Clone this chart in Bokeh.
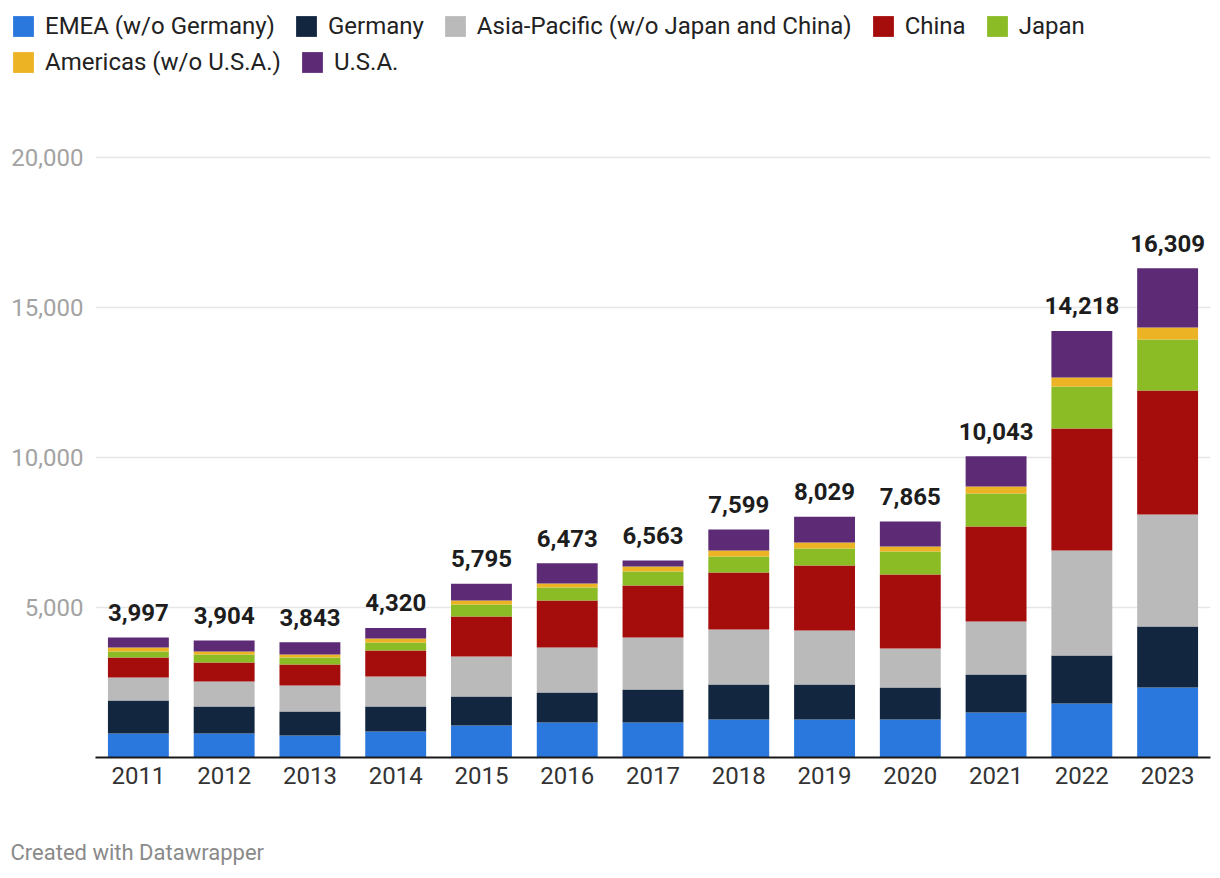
from bokeh.plotting import figure
from bokeh.layouts import column
from bokeh.models import (ColumnDataSource, Legend, LegendItem, Label, FixedTicker,
                          NumeralTickFormatter, Range1d, FactorRange)
from bokeh.embed import file_html
from bokeh.resources import INLINE
from bokeh.core.properties import value

years = ["2011", "2012", "2013", "2014", "2015", "2016", "2017",
         "2018", "2019", "2020", "2021", "2022", "2023"]
emea = [800, 800, 733, 867, 1067, 1167, 1167, 1267, 1267, 1267, 1500, 1800, 2333]
germany = [1100, 900, 800, 833, 967, 1000, 1100, 1167, 1167, 1067, 1267, 1600, 2033]
apac = [767, 833, 867, 1000, 1333, 1500, 1733, 1833, 1800, 1300, 1767, 3500, 3733]
china = [667, 633, 700, 867, 1333, 1567, 1733, 1900, 2167, 2467, 3167, 4067, 4133]
japan = [200, 267, 233, 267, 400, 433, 467, 533, 567, 767, 1100, 1400, 1700]
americas = [133, 100, 100, 133, 133, 133, 167, 200, 200, 167, 233, 300, 400]
usa = [330, 371, 410, 353, 562, 673, 196, 699, 861, 830, 1009, 1551, 1977]
totals = [3997, 3904, 3843, 4320, 5795, 6473, 6563, 7599, 8029, 7865, 10043, 14218, 16309]

series_keys = ["emea", "germany", "apac", "china", "japan", "americas", "usa"]
series_labels = ["EMEA (w/o Germany)", "Germany", "Asia-Pacific (w/o Japan and China)",
                 "China", "Japan", "Americas (w/o U.S.A.)", "U.S.A."]
colors = ["#2a77dd", "#12273f", "#bababa", "#a50c0c", "#8bbb25", "#ecb324", "#5d2b76"]
y_ticks = [5000, 10000, 15000, 20000]

FONT = "Roboto"
W = 1218

# ---------------- legend strip ----------------
LH = 100
lf = figure(width=W, height=LH, output_backend="svg", toolbar_location=None,
            x_range=Range1d(0, W), y_range=Range1d(0, LH),
            x_axis_type=None, y_axis_type=None, min_border=0)
lf.frame_align = False
lf.outline_line_color = None
lf.grid.visible = False
dummy = []
for c in colors:
    # zero-height swatch carriers for the legend
    dummy.append(lf.vbar(x=[-500], top=[0], bottom=[0], width=1, color=c, line_width=0))


def make_legend(idx, vy):
    items = [LegendItem(label=series_labels[i], renderers=[dummy[i]]) for i in idx]
    return Legend(items=items, location=(10, vy), orientation="horizontal",
                  glyph_width=26, glyph_height=26, label_standoff=9, spacing=18,
                  padding=0, margin=0, border_line_color=None,
                  background_fill_alpha=0, label_text_font=FONT,
                  label_text_font_size="24px", label_text_color="#222222")


lf.add_layout(make_legend([0, 1, 2, 3, 4], 60))
lf.add_layout(make_legend([5, 6], 24))

# ---------------- main chart ----------------
source = ColumnDataSource(dict(years=years, emea=emea, germany=germany, apac=apac,
                               china=china, japan=japan, americas=americas, usa=usa))

p = figure(width=W, height=707, output_backend="svg", toolbar_location=None,
           x_range=FactorRange(*years), y_range=Range1d(0, 21900),
           min_border_left=95, min_border_right=8, min_border_top=0, min_border_bottom=50)
p.frame_align = False
p.outline_line_color = None

renderers = p.vbar_stack(series_keys, x="years", width=0.71, color=colors,
                         line_width=0, source=source)

lab_src = ColumnDataSource(dict(x=years, y=totals, t=[f"{v:,}" for v in totals]))
p.text(x="x", y="y", text="t", source=lab_src, text_align="center",
       text_baseline="alphabetic", y_offset=-25, text_font=value(FONT),
       text_font_style="bold", text_font_size="24px", text_color="#1d1d1d")

p.yaxis.ticker = FixedTicker(ticks=y_ticks)
p.yaxis.formatter = NumeralTickFormatter(format="0,0")
p.yaxis.axis_line_color = None
p.yaxis.major_tick_line_color = None
p.yaxis.minor_tick_line_color = None
p.yaxis.major_tick_out = 0
p.yaxis.major_tick_in = 0
p.yaxis.major_label_text_font = FONT
p.yaxis.major_label_text_font_size = "24px"
p.yaxis.major_label_text_color = "#a3a3a3"
p.yaxis.major_label_standoff = 12

p.xaxis.axis_line_color = "#1a1a1a"
p.xaxis.axis_line_width = 2
p.xaxis.major_tick_line_color = None
p.xaxis.minor_tick_line_color = None
p.xaxis.major_tick_out = 0
p.xaxis.major_tick_in = 0
p.xaxis.major_label_text_font = FONT
p.xaxis.major_label_text_font_size = "24px"
p.xaxis.major_label_text_color = "#333333"
p.xaxis.major_label_standoff = 9

p.xgrid.grid_line_color = None
p.ygrid.grid_line_color = "#e6e6e6"
p.ygrid.grid_line_width = 1.5

# ---------------- footer ----------------
FH = 69
ff = figure(width=W, height=FH, output_backend="svg", toolbar_location=None,
            x_range=Range1d(0, W), y_range=Range1d(0, FH),
            x_axis_type=None, y_axis_type=None, min_border=0)
ff.frame_align = False
ff.outline_line_color = None
ff.grid.visible = False
ff.add_layout(Label(x=10, y=24, text="Created with Datawrapper", text_font=FONT,
                    text_font_size="22px", text_color="#8a8a8a", text_baseline="middle"))

layout = column(lf, p, ff, spacing=0)
open("out.html", "w").write(file_html(layout, INLINE))
